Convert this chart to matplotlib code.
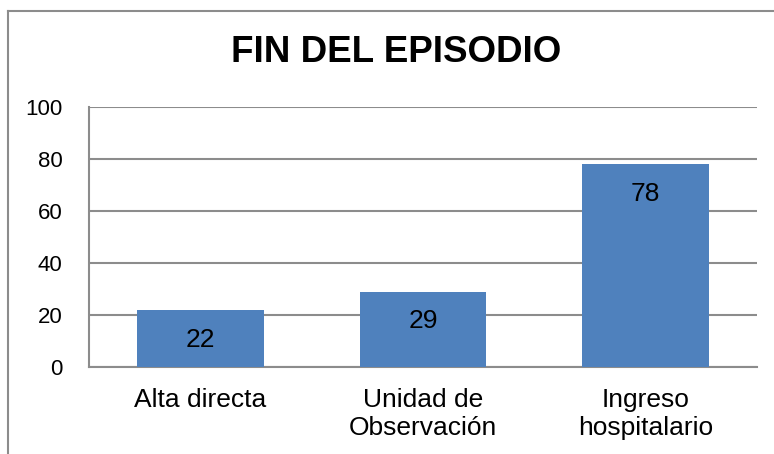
import matplotlib
matplotlib.use("Agg")
import matplotlib.pyplot as plt
from matplotlib.lines import Line2D

categories = ["Alta directa", "Unidad de\nObservación", "Ingreso\nhospitalario"]
values = [22, 29, 78]
yticks = [0, 20, 40, 60, 80, 100]
title = "FIN DEL EPISODIO"

plt.rcParams['font.family'] = ['Liberation Sans', 'DejaVu Sans']

W, H = 774, 454
fig = plt.figure(figsize=(W / 100, H / 100), dpi=100)
ax = fig.add_axes([89 / W, 1 - 367 / H, (757 - 89) / W, (367 - 107) / H])

x = list(range(len(categories)))
bars = ax.bar(x, values, width=0.57, color="#4F81BD", zorder=3)
ax.set_xlim(-0.5, len(categories) - 0.5)
ax.set_ylim(0, 100)
ax.set_yticks(yticks)
ax.set_yticklabels([str(t) for t in yticks], fontsize=16)
ax.set_xticks(x)
ax.set_xticklabels(categories, fontsize=19, linespacing=1.2)
ax.tick_params(axis="y", length=0, pad=19)
ax.tick_params(axis="x", length=0, pad=15)
ax.yaxis.grid(True, color="#8c8c8c", linewidth=1.5, zorder=0)
for s in ["top", "right"]:
    ax.spines[s].set_visible(False)
for s in ["left", "bottom"]:
    ax.spines[s].set_color("#8c8c8c")
    ax.spines[s].set_linewidth(1.5)

for xi, v in zip(x, values):
    ax.annotate(str(v), (xi, v), xytext=(0, -21.5), textcoords="offset points",
                ha="center", va="center", fontsize=19, zorder=4)

fig.text(396 / W, 1 - 53 / H, title, ha="center", va="center",
         fontsize=26.5, fontweight="bold")

# chart border (left and top visible)
fig.add_artist(Line2D([7.5 / W, 7.5 / W], [0, 1 - 11 / H], transform=fig.transFigure,
                      color="#8c8c8c", linewidth=1.5))
fig.add_artist(Line2D([7.5 / W, 1], [1 - 11 / H, 1 - 11 / H], transform=fig.transFigure,
                      color="#8c8c8c", linewidth=1.5))

fig.savefig("out.png", dpi=100, facecolor="white")
